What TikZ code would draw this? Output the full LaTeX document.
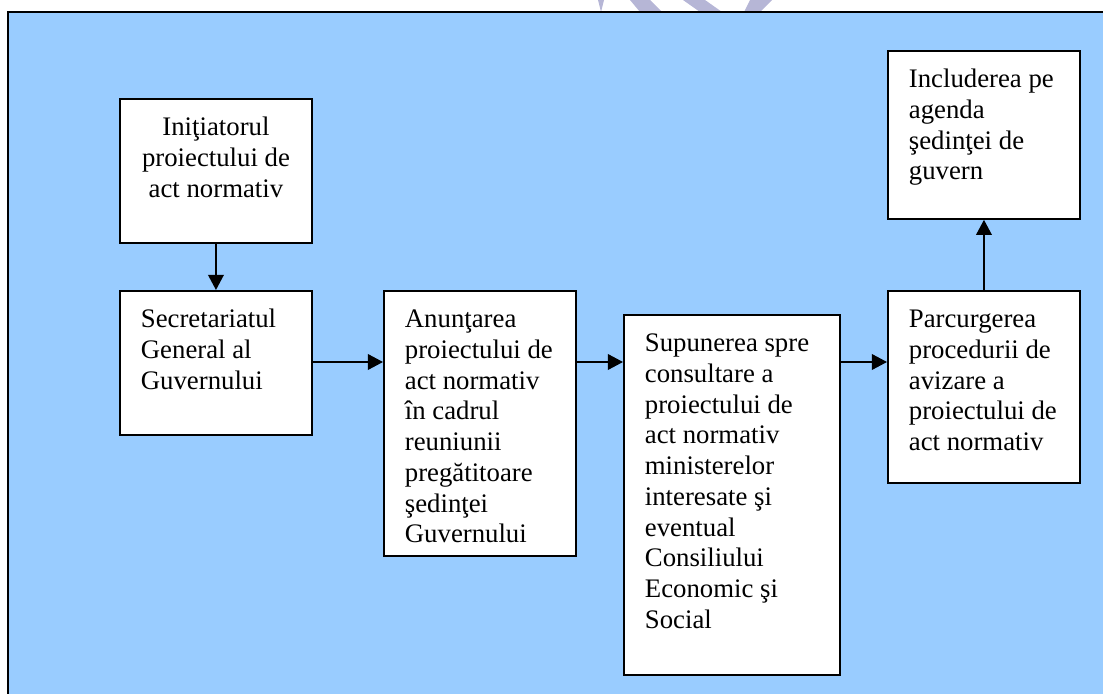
\documentclass[tikz,border=0pt]{standalone}
\usepackage{fontspec}
\setmainfont{Liberation Serif}
\usepackage{xcolor}
\usetikzlibrary{arrows.meta}
\definecolor{bgblue}{HTML}{99CCFF}
\definecolor{wmark}{RGB}{182,182,214}
\newcommand{\boxtext}[4][\raggedright]{\begin{minipage}[t][#3][t]{#2}#1\rule{0pt}{16.4pt}#4\end{minipage}}
\tikzset{
  stepbox/.style={draw=black,fill=white,line width=0.85pt,inner xsep=9.4pt,inner ysep=0pt,anchor=north west,font=\fontsize{12pt}{13.8pt}\selectfont},
  flow/.style={-{Triangle[length=6.8pt,width=7pt]},line width=0.85pt}
}
\begin{document}
\begin{tikzpicture}[x=0.4484pt,y=-0.4484pt]
\clip (0,0) rectangle (1103,694);
\foreach \a/\b/\c/\d in {598/604/601/601,630/650/662/640,683/705/722/700,750/772/760/744}{
\fill[wmark] (\a,0) -- (\b,0) -- (\c,12) -- (\d,12) -- cycle;
}
\draw[fill=bgblue,line width=1pt] (8,12) rectangle (1115,710);
\coordinate (row) at (0,362);
\node[stepbox] (init) at (119,98) {\boxtext[\centering]{67.3pt}{64.6pt}{Iniţiatorul\\ proiectului de\\ act normativ}};
\node[stepbox] (sgg) at (119,290) {\boxtext{67.3pt}{64.6pt}{Secretariatul\\ General al\\ Guvernului}};
\node[stepbox] (anunt) at (383,290) {\boxtext{67.3pt}{118.8pt}{Anunţarea\\ proiectului de\\ act normativ\\ în cadrul\\ reuniunii\\ pregătitoare\\ şedinţei\\ Guvernului}};
\node[stepbox] (supun) at (623,314) {\boxtext{78.1pt}{161.4pt}{Supunerea spre\\ consultare a\\ proiectului de\\ act normativ\\ ministerelor\\ interesate şi\\ eventual\\ Consiliului\\ Economic şi\\ Social}};
\node[stepbox] (parc) at (887,290) {\boxtext{67.3pt}{86.1pt}{Parcurgerea\\ procedurii de\\ avizare a\\ proiectului de\\ act normativ}};
\node[stepbox] (incl) at (887,50) {\boxtext{67.3pt}{75.3pt}{Includerea pe\\ agenda\\ şedinţei de\\ guvern}};
\draw[flow] (init.south) -- (sgg.north);
\draw[flow] (sgg.east |- row) -- (anunt.west |- row);
\draw[flow] (anunt.east |- row) -- (supun.west |- row);
\draw[flow] (supun.east |- row) -- (parc.west |- row);
\draw[flow] (parc.north) -- (incl.south);
\end{tikzpicture}
\end{document}
